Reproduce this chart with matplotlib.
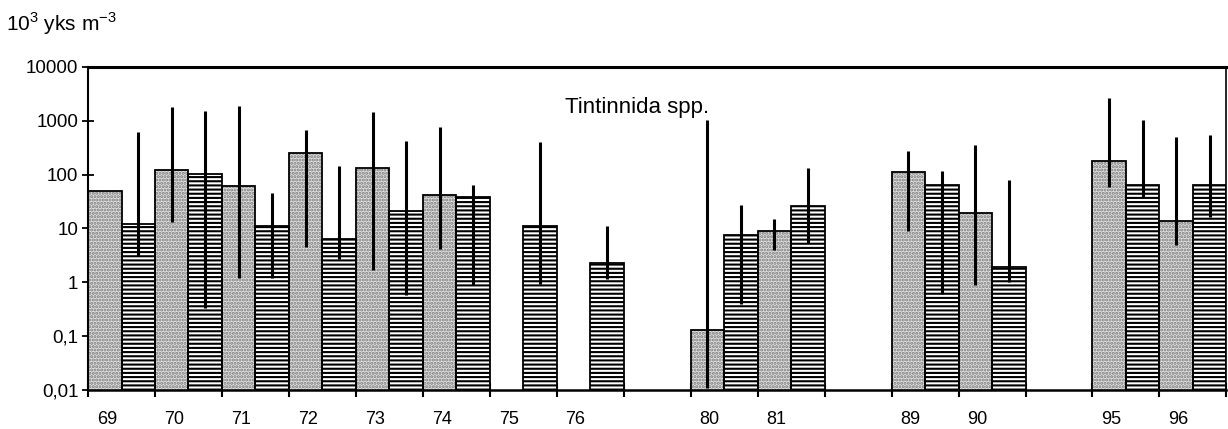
import numpy as np
import matplotlib
matplotlib.use('Agg')
import matplotlib.pyplot as plt

plt.rcParams['font.family'] = ['Liberation Sans', 'DejaVu Sans']
plt.rcParams['mathtext.fontset'] = 'custom'
plt.rcParams['mathtext.rm'] = 'Liberation Sans'
plt.rcParams['hatch.linewidth'] = 1.5

nan = np.nan

# vuodet (tyhjä = väli)
years = ['69', '70', '71', '72', '73', '74', '75', '76', '', '80', '81', '', '89', '90', '', '95', '96']

# pisteviivoitetut pylväät
dotted = [50, 120, 62, 250, 135, 42, nan, nan, nan, 0.13, 9, nan, 112, 19, nan, 180, 13.5]
dotted_lo = [nan, 13, 1.2, 4.5, 1.7, 4.1, nan, nan, nan, 0.011, 3.9, nan, 9.1, 0.9, nan, 60, 4.9]
dotted_hi = [nan, 1800, 1900, 680, 1450, 750, nan, nan, nan, 1050, 15, nan, 280, 360, nan, 2650, 500]

# vaakaviivoitetut pylväät
striped = [12, 102, 11, 6.3, 21, 38, 11, 2.3, nan, 7.7, 26, nan, 65, 1.95, nan, 65, 65]
striped_lo = [3.1, 0.33, 1.2, 2.7, 0.58, 0.9, 0.93, 1.13, nan, 0.4, 5.4, nan, 0.6, 1.0, nan, 39, 16.5]
striped_hi = [620, 1550, 45, 145, 420, 65, 400, 11, nan, 27, 135, nan, 115, 78, nan, 1050, 550]

ytick_vals = [0.01, 0.1, 1, 10, 100, 1000, 10000]
ytick_labels = ['0,01', '0,1', '1', '10', '100', '1000', '10000']

slots = np.arange(len(years))
x_dot = slots + 0.25
x_str = slots + 0.75
w = 0.5

fig = plt.figure(figsize=(12.28, 4.29), dpi=100)
ax = fig.add_axes([0.0717, 0.091, 0.927, 0.753])
ax.set_yscale('log')

# pisteet: harmaa pohja + harmaa kuvio, sitten musta reuna
ax.bar(x_dot, dotted, width=w, facecolor='#e0e0e0', edgecolor='#7a7a7a',
       hatch='.....', linewidth=0, zorder=2)
ax.bar(x_dot, dotted, width=w, facecolor='none', edgecolor='black',
       linewidth=1.3, zorder=2.1)

# vaakaviivat
ax.bar(x_str, striped, width=w, facecolor='white', edgecolor='black',
       hatch='----', linewidth=1.3, zorder=2)

# virhejanat
ax.vlines(x_dot, dotted_lo, dotted_hi, color='black', linewidth=2.2, zorder=3)
ax.vlines(x_str, striped_lo, striped_hi, color='black', linewidth=2.2, zorder=3)

ax.set_xlim(0, len(years))
ax.set_ylim(0.01, 10000)

ax.set_yticks(ytick_vals, ytick_labels, fontsize=13.5)
ax.minorticks_off()
ax.tick_params(axis='y', direction='inout', length=8, width=1.3, pad=3)

ax.set_xticks(np.arange(len(years) + 1), [''] * (len(years) + 1))
ax.tick_params(axis='x', which='major', direction='inout', length=10, width=1.5)
ax.set_xticks(slots + 0.28, years, minor=True, fontsize=13)
ax.tick_params(axis='x', which='minor', length=0, pad=15)

ax.spines['top'].set_linewidth(2.2)
ax.spines['left'].set_linewidth(1.5)
ax.spines['bottom'].set_linewidth(1.8)
ax.spines['right'].set_linewidth(1.2)

ax.text(0.482, 0.873, 'Tintinnida spp.', transform=ax.transAxes,
        ha='center', va='center', fontsize=16)
fig.text(0.005, 0.945, '10$^3$ yks m$^{-3}$', fontsize=15, ha='left', va='center')

fig.savefig('out.png', dpi=100)
